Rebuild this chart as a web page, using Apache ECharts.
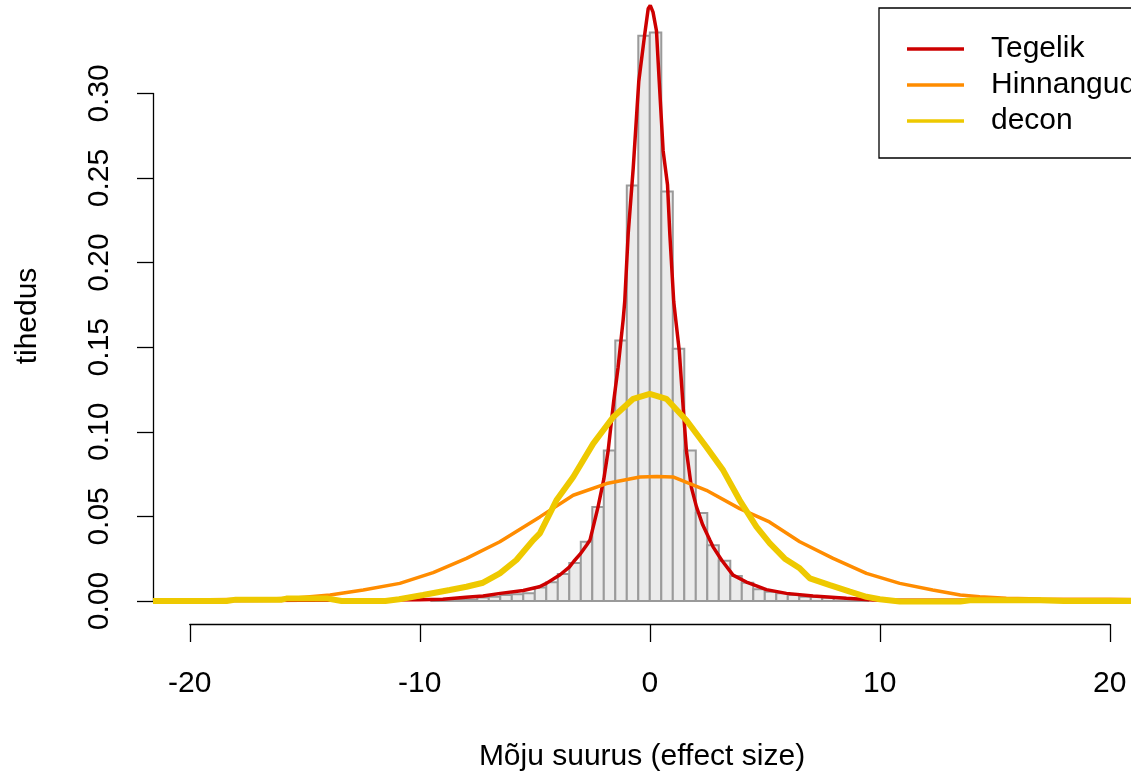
<!DOCTYPE html>
<html><head><meta charset="utf-8">
<script src="https://cdn.jsdelivr.net/npm/echarts@6/dist/echarts.min.js"></script>
<style>html,body{margin:0;padding:0;background:#fff}#c{width:1131px;height:779px}</style>
</head><body><div id="c"></div>
<script>
// ---- data ----
const binStarts = [-9.5,-9,-8.5,-8,-7.5,-7,-6.5,-6,-5.5,-5,-4.5,-4,-3.5,-3,-2.5,-2,-1.5,-1,-0.5,
                   0,0.5,1,1.5,2,2.5,3,3.5,4,4.5,5,5.5,6,6.5,7,7.5,8,8.5,9];
const binDensity = [0.0003,0.0005,0.0006,0.0008,0.002,0.0025,0.0035,0.004,0.0045,0.008,0.011,0.016,0.0225,0.035,0.0556,0.089,0.154,0.2456,0.334,
                    0.336,0.242,0.149,0.089,0.052,0.033,0.0238,0.0147,0.0108,0.0069,0.0055,0.0045,0.0035,0.0025,0.0025,0.002,0.0016,0.001,0.0005];
const binWidth = 0.5;

const tegelikX = [-21.6,-18,-15,-12,-10,-9,-8,-7.25,-6.5,-5.5,-4.8,-4.5,-3.9,-3.5,-3.3,-3.04,-2.75,-2.6,-2.25,-2.0,-1.81,-1.57,-1.38,-1.16,-1.09,-0.94,-0.72,-0.48,-0.22,-0.07,0.02,0.14,0.29,0.41,0.58,0.77,0.87,1.04,1.13,1.28,1.48,1.59,1.81,2.03,2.3,2.61,2.75,3.12,3.62,4.2,4.35,5.07,5.94,7.1,8.55,9.71,11,14,17,21.6];
const tegelikY = [0.0003,0.0003,0.0004,0.0006,0.0008,0.001,0.0022,0.003,0.0045,0.0062,0.0084,0.0104,0.0155,0.020,0.0235,0.0275,0.033,0.036,0.0556,0.072,0.089,0.118,0.138,0.166,0.177,0.217,0.256,0.307,0.335,0.350,0.352,0.348,0.337,0.307,0.266,0.246,0.217,0.177,0.166,0.148,0.109,0.089,0.067,0.0556,0.045,0.036,0.032,0.0242,0.0153,0.0112,0.0104,0.0067,0.0045,0.003,0.0016,0.0006,0.0004,0.0004,0.0003,0.0003];

const hinnangudX = [-21.6,-20,-18.3,-16.5,-15.4,-13.9,-12.46,-10.87,-9.42,-7.97,-6.52,-4.78,-3.33,-1.88,-0.43,0.3,1.01,2.46,3.91,5.2,6.52,7.97,9.42,10.87,12.3,13.5,14.35,15.5,17,20,21.6];
const hinnangudY = [0.0005,0.0006,0.0009,0.0012,0.0018,0.0035,0.0065,0.0104,0.0168,0.0252,0.035,0.0497,0.0625,0.0694,0.0733,0.0736,0.0733,0.0654,0.0546,0.0467,0.035,0.0252,0.0163,0.0104,0.0065,0.0035,0.0025,0.0016,0.0012,0.001,0.0008];

const deconX = [-21.6,-18.4,-18,-16,-15.8,-14,-13.4,-11.5,-10.9,-9.86,-8.7,-7.97,-7.25,-6.52,-5.8,-5.07,-4.78,-4.06,-3.33,-2.46,-1.6,-0.72,0,0.72,1.6,2.46,3.19,3.91,4.64,5.22,5.87,6.52,6.96,7.83,8.7,9.42,10,10.87,13.5,14,17,18,21.6];
const deconY = [0,0,0.0008,0.0008,0.0014,0.0014,0,0,0.001,0.0035,0.0065,0.0084,0.0108,0.0163,0.0242,0.036,0.040,0.0595,0.0733,0.093,0.1086,0.1195,0.1224,0.1195,0.1067,0.091,0.0772,0.0595,0.0438,0.034,0.025,0.0193,0.0134,0.0094,0.0055,0.0025,0.001,-0.0003,-0.0003,0.0005,0.0005,0,0];

const seriesNames = ['Tegelik','Hinnangud','decon'];
const xTitle = 'Mõju suurus (effect size)';
const yTitle = 'tihedus';

// ---- chart ----
const FONT = 'Liberation Sans, Arial, sans-serif';
const pairs = (xs, ys) => xs.map((x, i) => [x, ys[i]]);
const chart = echarts.init(document.getElementById('c'), null, {renderer: 'canvas'});

chart.setOption({
  animation: false,
  backgroundColor: '#fff',
  grid: [
    {left: 153, top: 3, width: 977.5, height: 621},        // data region, clipped at the right page edge
    {left: 189.8, top: 3, width: 920, height: 621},        // x axis from -20..20
    {left: 153, top: 93.4, width: 100, height: 507.6}      // y axis from 0..0.30
  ],
  xAxis: [
    {gridIndex: 0, type: 'value', min: -21.6, max: 20.9, show: false},
    {gridIndex: 1, type: 'value', min: -20, max: 20, interval: 10,
     axisLine: {show: true, onZero: false, lineStyle: {color: '#000', width: 1.3}},
     axisTick: {show: true, length: 18, lineStyle: {color: '#000', width: 1.3}},
     axisLabel: {fontSize: 30, color: '#000', fontFamily: FONT, margin: 45},
     splitLine: {show: false}},
    {gridIndex: 2, type: 'value', min: 0, max: 1, show: false}
  ],
  yAxis: [
    {gridIndex: 0, type: 'value', min: -0.0136, max: 0.3534, show: false},
    {gridIndex: 1, type: 'value', min: 0, max: 1, show: false},
    {gridIndex: 2, type: 'value', min: 0, max: 0.30, interval: 0.05,
     axisLine: {show: true, onZero: false, lineStyle: {color: '#000', width: 1.3}},
     axisTick: {show: true, length: 16, lineStyle: {color: '#000', width: 1.3}},
     axisLabel: {fontSize: 30, color: '#000', fontFamily: FONT, rotate: 90, margin: 38,
                 formatter: v => v.toFixed(2)},
     splitLine: {show: false}}
  ],
  legend: {
    data: seriesNames.map(n => ({name: n, icon: 'rect'})),
    orient: 'vertical',
    left: 879, top: 8,
    padding: [26, 40, 22, 28],
    itemWidth: 57, itemHeight: 3.5, itemGap: 6,
    borderColor: '#000', borderWidth: 1.3, borderRadius: 0,
    backgroundColor: '#fff',
    textStyle: {fontSize: 30, color: '#000', fontFamily: FONT, padding: [0, 0, 0, 22]}
  },
  graphic: [
    {type: 'text', x: 642, y: 757,
     style: {text: xTitle, fontSize: 30, fill: '#000', fontFamily: FONT, align: 'center', verticalAlign: 'middle'}},
    {type: 'text', x: 28, y: 316, rotation: Math.PI / 2,
     style: {text: yTitle, fontSize: 30, fill: '#000', fontFamily: FONT, align: 'center', verticalAlign: 'middle'}}
  ],
  series: [
    {
      type: 'custom', name: 'hist', xAxisIndex: 0, yAxisIndex: 0, z: 1,
      data: binStarts.map((s, i) => [s, s + binWidth, binDensity[i]]),
      encode: {x: [0, 1], y: 2},
      renderItem: (params, api) => {
        const p0 = api.coord([api.value(0), api.value(2)]);
        const p1 = api.coord([api.value(1), 0]);
        return {type: 'rect',
          shape: {x: p0[0], y: p0[1], width: p1[0] - p0[0], height: p1[1] - p0[1]},
          style: {fill: '#EBEBEB', stroke: '#9A9A9A', lineWidth: 2}};
      }
    },
    {type: 'line', name: seriesNames[0], xAxisIndex: 0, yAxisIndex: 0, z: 3,
     data: pairs(tegelikX, tegelikY), symbol: 'none', smooth: false,
     lineStyle: {color: '#CD0000', width: 3.5}, itemStyle: {color: '#CD0000'}},
    {type: 'line', name: seriesNames[1], xAxisIndex: 0, yAxisIndex: 0, z: 4,
     data: pairs(hinnangudX, hinnangudY), symbol: 'none', smooth: false,
     lineStyle: {color: '#FF8C00', width: 3.5}, itemStyle: {color: '#FF8C00'}},
    {type: 'line', name: seriesNames[2], xAxisIndex: 0, yAxisIndex: 0, z: 5,
     data: pairs(deconX, deconY), symbol: 'none', smooth: false,
     lineStyle: {color: '#EEC900', width: 6}, itemStyle: {color: '#EEC900'}}
  ]
});
</script>
</body></html>
